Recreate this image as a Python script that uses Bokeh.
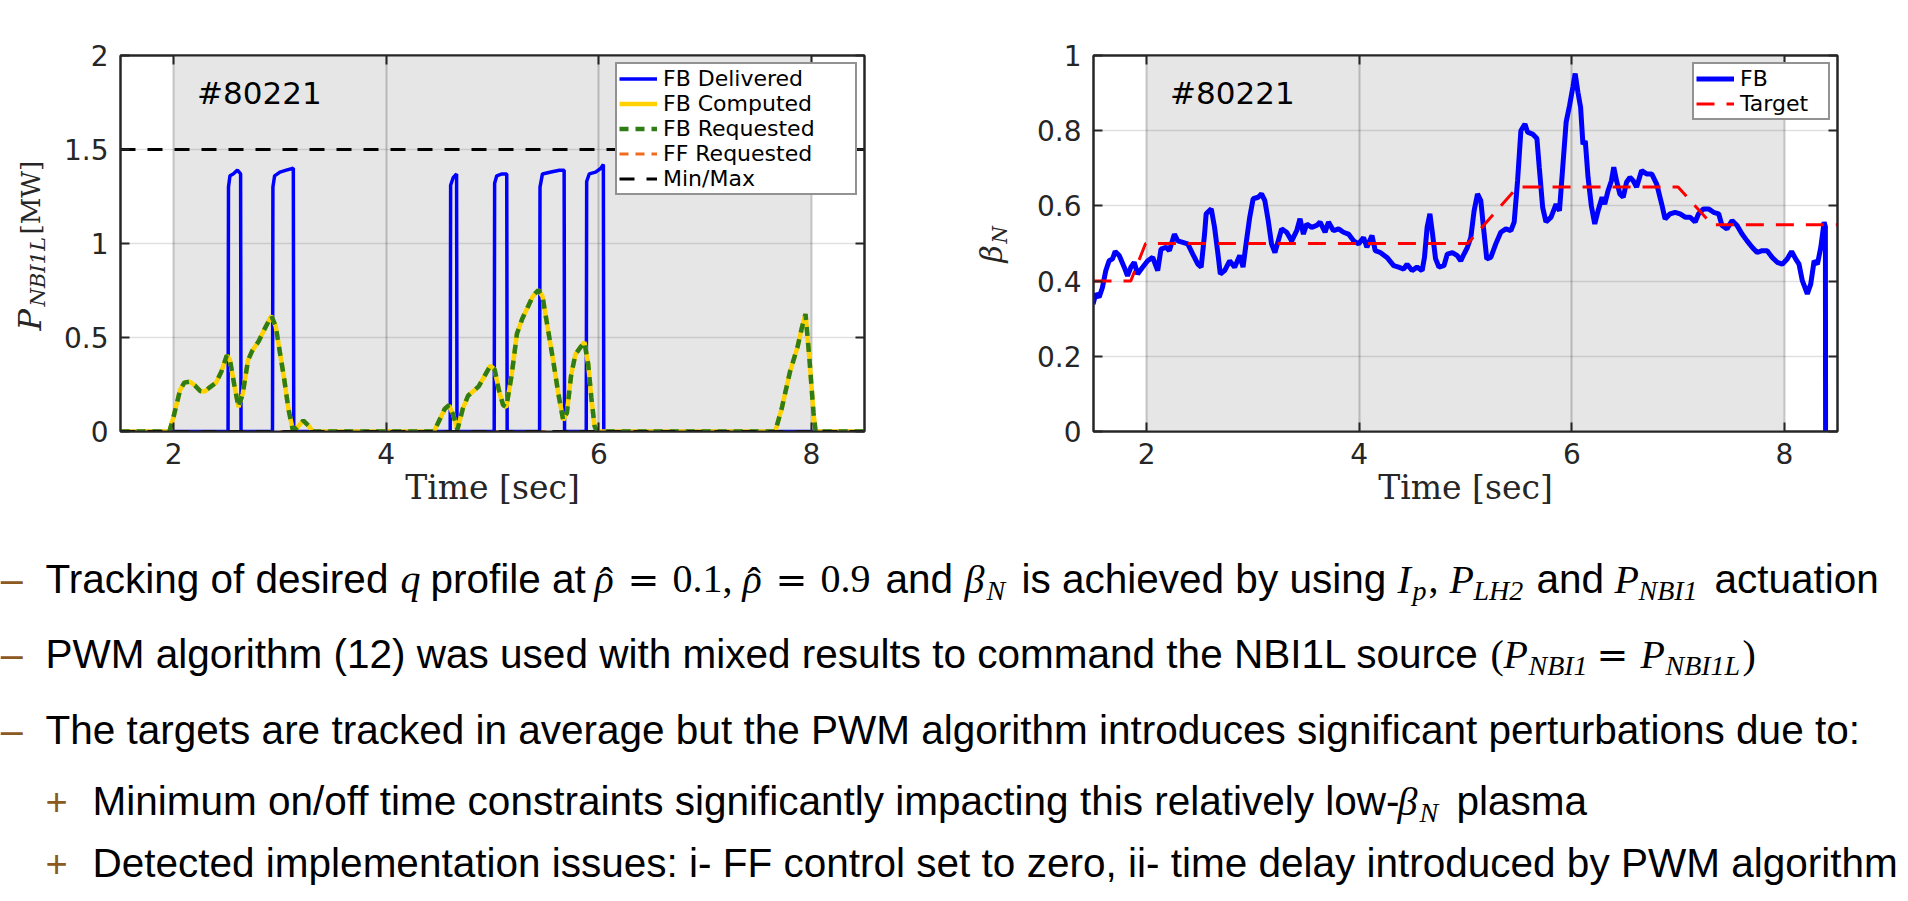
from bokeh.plotting import figure
from bokeh.models import (Range1d, LinearAxis, FixedTicker, NumeralTickFormatter,
                          Legend, LegendItem, Label, ColumnDataSource)
from bokeh.layouts import column, row
from bokeh.embed import file_html
from bokeh.resources import INLINE
from bokeh.core.properties import value

# ---------------------------------------------------------------- data
shot_number = "#80221"
time_range = [1.5, 8.5]
control_window = [2.0, 8.0]
time_ticks = [2, 4, 6, 8]

pnbi_range = [0.0, 2.0]
pnbi_ticks = [0, 0.5, 1, 1.5, 2]
betan_range = [0.0, 1.0]
betan_ticks = [0, 0.2, 0.4, 0.6, 0.8, 1]

left_legend = ["FB Delivered", "FB Computed", "FB Requested", "FF Requested", "Min/Max"]
right_legend = ["FB", "Target"]

fb_delivered_t = [1.50, 2.512, 2.516, 2.53, 2.56, 2.60, 2.630, 2.634,
                  2.930, 2.934, 2.95, 3.00, 3.06, 3.126, 3.130,
                  4.602, 4.606, 4.63, 4.662, 4.666,
                  5.016, 5.020, 5.04, 5.09, 5.134, 5.138,
                  5.443, 5.447, 5.47, 5.55, 5.63, 5.674, 5.678,
                  5.882, 5.886, 5.91, 5.97, 6.02, 6.043, 6.047, 8.50]
fb_delivered_v = [0.0, 0.0, 1.30, 1.36, 1.37, 1.39, 1.37, 0.0,
                  0.0, 1.30, 1.36, 1.38, 1.39, 1.40, 0.0,
                  0.0, 1.31, 1.35, 1.37, 0.0,
                  0.0, 1.32, 1.36, 1.37, 1.37, 0.0,
                  0.0, 1.30, 1.37, 1.38, 1.39, 1.39, 0.0,
                  0.0, 1.33, 1.37, 1.38, 1.40, 1.42, 0.0, 0.0]

fb_computed_t = [1.50, 1.96, 2.00, 2.06, 2.10, 2.15, 2.20, 2.25, 2.29, 2.34,
                 2.40, 2.45, 2.50, 2.53, 2.57, 2.61, 2.65, 2.70, 2.74, 2.80,
                 2.86, 2.92, 2.96, 3.00, 3.04, 3.08, 3.12, 3.16, 3.22, 3.27,
                 3.31, 4.45, 4.50, 4.55, 4.59, 4.63, 4.67, 4.72, 4.77, 4.82,
                 4.87, 4.93, 4.98, 5.02, 5.06, 5.10, 5.13, 5.18, 5.23, 5.28,
                 5.33, 5.38, 5.43, 5.47, 5.52, 5.57, 5.62, 5.665, 5.70, 5.74,
                 5.78, 5.83, 5.865, 5.90, 5.93, 5.96, 5.98, 7.66, 7.72, 7.80,
                 7.87, 7.91, 7.945, 7.98, 8.02, 8.04, 8.50]
fb_computed_v = [0.0, 0.0, 0.08, 0.22, 0.26, 0.265, 0.245, 0.215, 0.212, 0.235,
                 0.26, 0.32, 0.405, 0.38, 0.25, 0.13, 0.20, 0.38, 0.43, 0.48,
                 0.55, 0.615, 0.56, 0.42, 0.28, 0.12, 0.01, 0.02, 0.058, 0.03,
                 0.0, 0.0, 0.06, 0.12, 0.14, 0.09, 0.01, 0.12, 0.19, 0.215,
                 0.24, 0.30, 0.35, 0.33, 0.22, 0.14, 0.13, 0.30, 0.52, 0.60,
                 0.66, 0.72, 0.752, 0.72, 0.55, 0.38, 0.20, 0.06, 0.10, 0.30,
                 0.41, 0.45, 0.475, 0.36, 0.18, 0.03, 0.0, 0.0, 0.12, 0.32,
                 0.45, 0.55, 0.625, 0.40, 0.10, 0.0, 0.0]
# requested equals computed in this shot
fb_requested_t = list(fb_computed_t)
fb_requested_v = list(fb_computed_v)
ff_requested_t = [1.5, 8.5]
ff_requested_v = [0.0, 0.0]
minmax_levels = [0.0, 1.5]

beta_t = [1.496, 1.521, 1.553, 1.584, 1.616, 1.647, 1.679, 1.704, 1.742, 1.789,
          1.820, 1.852, 1.883, 1.915, 1.962, 2.010, 2.057, 2.104, 2.135, 2.183,
          2.214, 2.261, 2.293, 2.340, 2.387, 2.434, 2.482, 2.513, 2.545, 2.560,
          2.608, 2.639, 2.671, 2.693, 2.734, 2.781, 2.828, 2.876, 2.907, 2.939,
          2.970, 3.002, 3.049, 3.081, 3.112, 3.144, 3.175, 3.207, 3.238, 3.270,
          3.317, 3.365, 3.412, 3.443, 3.475, 3.506, 3.553, 3.600, 3.632, 3.679,
          3.711, 3.758, 3.805, 3.852, 3.899, 3.947, 3.994, 4.041, 4.072, 4.120,
          4.151, 4.198, 4.261, 4.324, 4.371, 4.418, 4.450, 4.497, 4.544, 4.592,
          4.614, 4.639, 4.665, 4.686, 4.718, 4.750, 4.797, 4.829, 4.876, 4.923,
          4.955, 4.986, 5.018, 5.050, 5.081, 5.113, 5.144, 5.169, 5.200, 5.238,
          5.285, 5.332, 5.380, 5.427, 5.458, 5.490, 5.521, 5.559, 5.584, 5.631,
          5.672, 5.694, 5.726, 5.757, 5.805, 5.852, 5.884, 5.915, 5.947, 5.979,
          6.010, 6.032, 6.058, 6.083, 6.105, 6.127, 6.153, 6.184, 6.216, 6.247,
          6.285, 6.310, 6.342, 6.373, 6.395, 6.421, 6.452, 6.484, 6.515, 6.547,
          6.578, 6.610, 6.657, 6.704, 6.752, 6.799, 6.846, 6.878, 6.925, 6.972,
          7.019, 7.067, 7.114, 7.161, 7.193, 7.240, 7.287, 7.334, 7.382, 7.413,
          7.460, 7.508, 7.555, 7.602, 7.649, 7.697, 7.744, 7.791, 7.838, 7.886,
          7.933, 7.980, 8.027, 8.068, 8.106, 8.138, 8.169, 8.216, 8.248, 8.280,
          8.311, 8.343, 8.374, 8.386, 8.388]
beta_v = [0.339, 0.366, 0.357, 0.383, 0.428, 0.454, 0.459, 0.479, 0.468, 0.437,
          0.414, 0.437, 0.450, 0.419, 0.437, 0.454, 0.463, 0.428, 0.485, 0.490,
          0.481, 0.525, 0.507, 0.503, 0.499, 0.472, 0.445, 0.437, 0.525, 0.579,
          0.592, 0.543, 0.472, 0.419, 0.428, 0.454, 0.437, 0.468, 0.437, 0.507,
          0.570, 0.619, 0.623, 0.632, 0.614, 0.561, 0.499, 0.476, 0.507, 0.539,
          0.530, 0.507, 0.534, 0.566, 0.525, 0.552, 0.543, 0.548, 0.557, 0.530,
          0.557, 0.534, 0.539, 0.530, 0.525, 0.507, 0.499, 0.516, 0.490, 0.521,
          0.481, 0.476, 0.463, 0.441, 0.437, 0.432, 0.445, 0.428, 0.437, 0.428,
          0.463, 0.543, 0.579, 0.534, 0.460, 0.437, 0.441, 0.472, 0.476, 0.468,
          0.454, 0.472, 0.490, 0.516, 0.587, 0.632, 0.614, 0.543, 0.459, 0.463,
          0.499, 0.530, 0.539, 0.534, 0.557, 0.667, 0.800, 0.818, 0.796, 0.791,
          0.779, 0.703, 0.596, 0.557, 0.570, 0.605, 0.587, 0.703, 0.823, 0.867,
          0.916, 0.952, 0.902, 0.862, 0.764, 0.773, 0.676, 0.600, 0.552, 0.587,
          0.623, 0.605, 0.641, 0.667, 0.703, 0.667, 0.632, 0.623, 0.663, 0.676,
          0.667, 0.650, 0.694, 0.685, 0.685, 0.658, 0.605, 0.565, 0.579, 0.583,
          0.579, 0.570, 0.570, 0.557, 0.579, 0.592, 0.592, 0.583, 0.579, 0.548,
          0.539, 0.561, 0.548, 0.525, 0.507, 0.490, 0.476, 0.481, 0.481, 0.463,
          0.450, 0.445, 0.459, 0.479, 0.459, 0.445, 0.401, 0.366, 0.392, 0.454,
          0.445, 0.490, 0.557, 0.545, 0.000]
target_t = [1.5, 1.85, 1.99, 5.02, 5.49, 7.00, 7.32, 8.5]
target_v = [0.40, 0.40, 0.50, 0.50, 0.65, 0.65, 0.55, 0.55]

# slide bullet text: (kind, text, x) runs per line
slide_lines = [
    [("mark", "\u2013", 0), ("sans", "Tracking of desired", 45), ("math", "q", 400),
     ("sans", "profile at", 430),
     ("math", "\u03c1", 594), ("hat", "\u02c6", 599), ("eq", "=", 627), ("up", "0.1,", 672),
     ("math", "\u03c1", 742), ("hat", "\u02c6", 747), ("eq", "=", 775), ("up", "0.9", 820),
     ("sans", "and", 885), ("math", "\u03b2", 964), ("sub", "N", 986),
     ("sans", "is achieved by using", 1021), ("math", "I", 1397), ("sub", "p", 1412),
     ("up", ",", 1428), ("math", "P", 1449), ("sub", "LH2", 1473), ("sans", "and", 1536),
     ("math", "P", 1614), ("sub", "NBI1", 1638), ("sans", "actuation", 1714)],
    [("mark", "\u2013", 0),
     ("sans", "PWM algorithm (12) was used with mixed results to command the NBI1L source", 45),
     ("up", "(", 1490), ("math", "P", 1503), ("sub", "NBI1", 1528), ("eq", "=", 1596),
     ("math", "P", 1640), ("sub", "NBI1L", 1665), ("up", ")", 1742)],
    [("mark", "\u2013", 0),
     ("sans", "The targets are tracked in average but the PWM algorithm introduces "
              "significant perturbations due to:", 45)],
    [("plus", "+", 45),
     ("sans", "Minimum on/off time constraints significantly impacting this relatively low-", 92),
     ("math", "\u03b2", 1397), ("sub", "N", 1419), ("sans", "plasma", 1456)],
    [("plus", "+", 45),
     ("sans", "Detected implementation issues: i- FF control set to zero, ii- time delay "
              "introduced by PWM algorithm", 92)],
]
line_baselines = [593, 668, 744, 815, 877]

# ---------------------------------------------------------------- styling
W, H = 1908, 901
FRAME_W, FRAME_H = 744, 376
TOP, BOTTOM = 55, 120
ROW_H = TOP + FRAME_H + BOTTOM
FRAME_BOTTOM = TOP + FRAME_H
AX = "#262626"
TICK_FONT = "DejaVu Sans"
SERIF_AX = "DejaVu Serif"
SHADE = "#e6e6e6"
BASELINE_FIX = 0.36   # em; horizontal glyph text sits this far below the requested baseline

STRIP1_W, P1_LEFT, P1_RIGHT = 56, 64, 96          # left frame spans x 120..864
STRIP2_W = 64                                      # right strip starts at x 960
P2_LEFT = 1093 - (STRIP1_W + P1_LEFT + FRAME_W + P1_RIGHT) - STRIP2_W
P2_RIGHT = W - 1093 - FRAME_W


def make_panel(yr, yticks, left_border, right_border):
    p = figure(frame_width=FRAME_W, frame_height=FRAME_H, title=None,
               x_range=Range1d(*time_range), y_range=Range1d(*yr),
               min_border_left=left_border, min_border_right=right_border,
               min_border_top=TOP, min_border_bottom=BOTTOM,
               output_backend="svg", toolbar_location=None)
    p.background_fill_color = "white"
    p.border_fill_color = "white"
    p.outline_line_color = AX
    p.outline_line_width = 2
    p.add_layout(LinearAxis(), "above")
    p.add_layout(LinearAxis(), "right")
    xt = FixedTicker(ticks=time_ticks)
    yt = FixedTicker(ticks=yticks)
    for ax in p.xaxis:
        ax.ticker = xt
    for ax in p.yaxis:
        ax.ticker = yt
    p.xgrid.ticker = xt
    p.ygrid.ticker = yt
    for ax in p.axis:
        ax.formatter = NumeralTickFormatter(format="0.[0]")
        ax.axis_line_color = AX
        ax.axis_line_width = 2
        ax.major_tick_line_color = AX
        ax.major_tick_line_width = 2
        ax.major_tick_in = 9
        ax.major_tick_out = 0
        ax.minor_tick_line_color = None
        ax.major_label_text_font = TICK_FONT
        ax.major_label_text_font_size = "28px"
        ax.major_label_text_color = AX
    p.above[0].major_label_overrides = {t: "" for t in time_ticks}
    p.right[0].major_label_overrides = {t: "" for t in yticks}
    for ax in (p.above[0], p.right[0]):
        ax.major_label_standoff = 0
        ax.major_label_text_font_size = "1px"
    p.below[0].major_label_standoff = 11
    p.left[0].major_label_standoff = 12
    p.below[0].axis_label = "Time [sec]"
    p.below[0].axis_label_text_font = SERIF_AX
    p.below[0].axis_label_text_font_size = "33px"
    p.below[0].axis_label_text_font_style = "normal"
    p.below[0].axis_label_text_color = AX
    p.below[0].axis_label_standoff = 1
    p.xgrid.grid_line_color = "black"
    p.xgrid.grid_line_alpha = 0.2
    p.xgrid.grid_line_width = 2
    p.ygrid.grid_line_color = "black"
    p.ygrid.grid_line_alpha = 0.12
    p.ygrid.grid_line_width = 1.5
    p.quad(left=[control_window[0]], right=[control_window[1]], bottom=[yr[0]], top=[yr[1]],
           fill_color=SHADE, line_color=None, level="image")
    p.add_layout(Label(x=2.22, y=(yr[1] - yr[0]) * 0.90, text=shot_number,
                       text_font=TICK_FONT, text_font_size="31px", text_color="black",
                       text_baseline="alphabetic"))
    return p


def style_legend(leg, label_width):
    leg.location = "top_right"
    leg.margin = 7
    leg.padding = 2
    leg.spacing = 0
    leg.border_line_color = AX
    leg.border_line_width = 2
    leg.background_fill_color = "white"
    leg.background_fill_alpha = 1
    leg.label_text_font = TICK_FONT
    leg.label_text_font_size = "22px"
    leg.label_text_color = "black"
    leg.glyph_width = 38
    leg.glyph_height = 25
    leg.label_height = 25
    leg.label_standoff = 6
    leg.label_width = label_width


def label_strip(width, runs):
    """Narrow canvas beside a panel holding its rotated (math-style) y-axis label.
    Same vertical geometry as the panels; y is measured up from the frame bottom."""
    f = figure(frame_width=width, frame_height=FRAME_H, title=None,
               x_range=Range1d(0, width), y_range=Range1d(0, FRAME_H),
               x_axis_type=None, y_axis_type=None,
               min_border_left=0, min_border_right=0,
               min_border_top=TOP, min_border_bottom=BOTTOM,
               output_backend="svg", toolbar_location=None)
    f.outline_line_color = None
    f.background_fill_color = "white"
    f.border_fill_color = "white"
    for txt, x, page_y, size, style in runs:
        f.text(x=[x], y=[FRAME_BOTTOM - page_y], text=[txt],
               angle=90, angle_units="deg",
               text_font=value(SERIF_AX), text_font_style=style, text_font_size=f"{size}px",
               text_color=AX, text_baseline="alphabetic", text_align="left")
    return f


# ---------------- left panel: P_NBI1L
p1 = make_panel(pnbi_range, pnbi_ticks, P1_LEFT, P1_RIGHT)
r_ff = p1.line(ff_requested_t, ff_requested_v, line_color="#f26a1b", line_width=3, line_dash="9 7")
r_del = p1.line(fb_delivered_t, fb_delivered_v, line_color="#0000ff", line_width=3.5)
r_comp = p1.line(fb_computed_t, fb_computed_v, line_color="#ffd200", line_width=4.5)
r_req = p1.line(fb_requested_t, fb_requested_v, line_color="#2f7d14", line_width=4.5, line_dash="9 7")
r_mm = [p1.line(time_range, [lvl, lvl], line_color="black", line_width=3, line_dash="15 12")
        for lvl in minmax_levels]
leg1 = Legend(items=[LegendItem(label=left_legend[0], renderers=[r_del]),
                     LegendItem(label=left_legend[1], renderers=[r_comp]),
                     LegendItem(label=left_legend[2], renderers=[r_req]),
                     LegendItem(label=left_legend[3], renderers=[r_ff]),
                     LegendItem(label=left_legend[4], renderers=[r_mm[0]])])
style_legend(leg1, 190)
p1.add_layout(leg1)
strip1 = label_strip(STRIP1_W, [("P", 29, 330, 32, "italic"),
                                ("NBI1L", 37, 306, 21, "italic"),
                                ("[MW]", 30, 234, 26, "normal")])

# ---------------- right panel: beta_N
p2 = make_panel(betan_range, betan_ticks, P2_LEFT, P2_RIGHT)
r_fb = p2.line(beta_t, beta_v, line_color="#0000ff", line_width=5)
r_tg = p2.line(target_t, target_v, line_color="#ff0000", line_width=3, line_dash="18 12")
leg2 = Legend(items=[LegendItem(label=right_legend[0], renderers=[r_fb]),
                     LegendItem(label=right_legend[1], renderers=[r_tg])])
style_legend(leg2, 86)
p2.add_layout(leg2)
strip2 = label_strip(STRIP2_W, [("\u03b2", 31, 262, 30, "italic"),
                                ("N", 39, 243, 20, "italic")])

# ---------------- slide text
p3 = figure(width=W, height=H - ROW_H, title=None,
            x_range=Range1d(0, W), y_range=Range1d(H, ROW_H),
            x_axis_type=None, y_axis_type=None, min_border=0,
            output_backend="svg", toolbar_location=None)
p3.outline_line_color = None
p3.background_fill_color = "white"
p3.border_fill_color = "white"

BROWN = "#8c5a1e"
kinds = {
    "sans": ("Liberation Sans", "normal", 40.5, 0, "black"),
    "math": ("Liberation Serif", "italic", 40, 0, "black"),
    "hat": ("Liberation Serif", "normal", 40, 2, "black"),
    "up": ("Liberation Serif", "normal", 40, 0, "black"),
    "eq": ("DejaVu Serif", "normal", 38, 0, "black"),
    "sub": ("Liberation Serif", "italic", 28, 7, "black"),
    "mark": ("Liberation Sans", "normal", 40, 0, BROWN),
    "plus": ("Liberation Sans", "normal", 38, 0, BROWN),
}
groups = {}
for runs, base in zip(slide_lines, line_baselines):
    for kind, txt, x0 in runs:
        font, style, size, dy, color = kinds[kind]
        g = groups.setdefault((font, style), dict(x=[], y=[], text=[], size=[], color=[]))
        g["x"].append(x0)
        g["y"].append(base + dy - BASELINE_FIX * size)
        g["text"].append(txt)
        g["size"].append(f"{size}px")
        g["color"].append(color)
for (font, style), g in groups.items():
    p3.text(x="x", y="y", text="text", source=ColumnDataSource(g),
            text_font=value(font), text_font_style=style, text_font_size="size",
            text_color="color", text_baseline="alphabetic", text_align="left")

layout = column(row(strip1, p1, strip2, p2), p3)
open("out.html", "w").write(file_html(layout, INLINE))
